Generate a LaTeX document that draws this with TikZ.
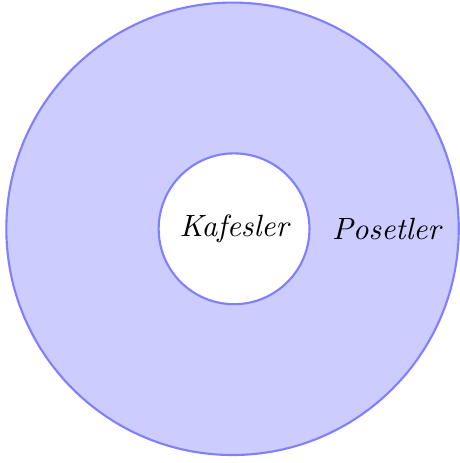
\documentclass[tikz,border=0pt]{standalone}
\begin{document}
\begin{tikzpicture}[
  ring/.style={draw=blue!50, line width=0.8pt},
  lbl/.style={inner sep=0pt, scale=1.16, font=\itshape}
]
\useasboundingbox (-3.084,-3.106) rectangle (3.004,3.034);
\fill[blue!20] (0,0) circle (3);
\draw[ring] (0,0) circle (3);
\fill[white] (0.02,0) circle (1);
\draw[ring] (0.02,0) circle (1);
\node[lbl] (kaf) at (0.02,0) {Kafesler};
\node[lbl] (pos) at (2.04,0) {Posetler};
\end{tikzpicture}
\end{document}
